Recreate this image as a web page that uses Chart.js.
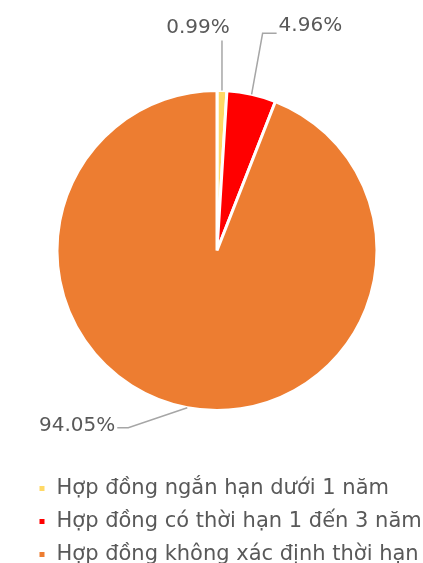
<!DOCTYPE html>
<html><head><meta charset="utf-8">
<script src="https://cdn.jsdelivr.net/npm/chart.js@4/dist/chart.umd.min.js"></script>
<style>html,body{margin:0;padding:0;background:#fff}#wrap{width:423px;height:563px;position:relative}</style>
</head><body><div id="wrap"><canvas id="c"></canvas></div>
<script>
const categories = ['Hợp đồng ngắn hạn dưới 1 năm', 'Hợp đồng có thời hạn 1 đến 3 năm', 'Hợp đồng không xác định thời hạn'];
const values = [0.99, 4.96, 94.05];
const valueLabels = ['0.99%', '4.96%', '94.05%'];
const colors = ['#FFD966', '#FF0000', '#ED7D31'];

// leader-line geometry (style): elbow offset from arc edge and horizontal run
const leaderStyle = [
  {dx: 0, dy: -50, run: 0, align: 'center', tdy: -13},
  {dx: 11, dy: -61, run: 14, align: 'left', tdy: -7},
  {dx: -59, dy: 20, run: -11, align: 'right', tdy: -2}
];

// shift the pie horizontally within the layout (style)
const pieShift = {
  id: 'pieShift',
  afterLayout(chart) {
    chart.chartArea.left -= 7.5;
    chart.chartArea.right -= 7.5;
  }
};

const labelPlugin = {
  id: 'leaderLabels',
  afterDatasetsDraw(chart) {
    const ctx = chart.ctx;
    const meta = chart.getDatasetMeta(0);
    meta.data.forEach((arc, i) => {
      const p = arc.getProps(['x','y','startAngle','endAngle','outerRadius'], true);
      const mid = (p.startAngle + p.endAngle) / 2;
      const ex = p.x + Math.cos(mid) * p.outerRadius;
      const ey = p.y + Math.sin(mid) * p.outerRadius;
      const s = leaderStyle[i];
      const bx = ex + s.dx, by = ey + s.dy;
      const hx = bx + s.run;
      ctx.save();
      ctx.strokeStyle = '#A6A6A6';
      ctx.lineWidth = 1.5;
      ctx.beginPath();
      ctx.moveTo(ex, ey);
      ctx.lineTo(bx, by);
      if (s.run) ctx.lineTo(hx, by);
      ctx.stroke();
      ctx.fillStyle = '#595959';
      ctx.font = '20px "DejaVu Sans"';
      ctx.textBaseline = 'middle';
      ctx.textAlign = s.align;
      const tx = s.align === 'left' ? hx + 2 : s.align === 'right' ? hx - 2 : bx - 24;
      ctx.fillText(valueLabels[i], tx, by + s.tdy);
      ctx.restore();
    });
  }
};

new Chart(document.getElementById('c'), {
  type: 'pie',
  data: {
    labels: categories,
    datasets: [{
      data: values,
      backgroundColor: colors,
      borderColor: '#FFFFFF',
      borderWidth: 3
    }]
  },
  options: {
    responsive: true,
    maintainAspectRatio: false,
    animation: false,
    radius: 160,
    layout: {padding: {top: 35, left: 26, right: 0, bottom: -12}},
    plugins: {
      tooltip: {enabled: false},
      legend: {
        position: 'bottom',
        align: 'start',
        labels: {
          boxWidth: 8,
          boxHeight: 8,
          padding: 12,
          color: '#595959',
          font: {family: 'DejaVu Sans', size: 21}
        }
      }
    }
  },
  plugins: [pieShift, labelPlugin]
});
</script></body></html>
